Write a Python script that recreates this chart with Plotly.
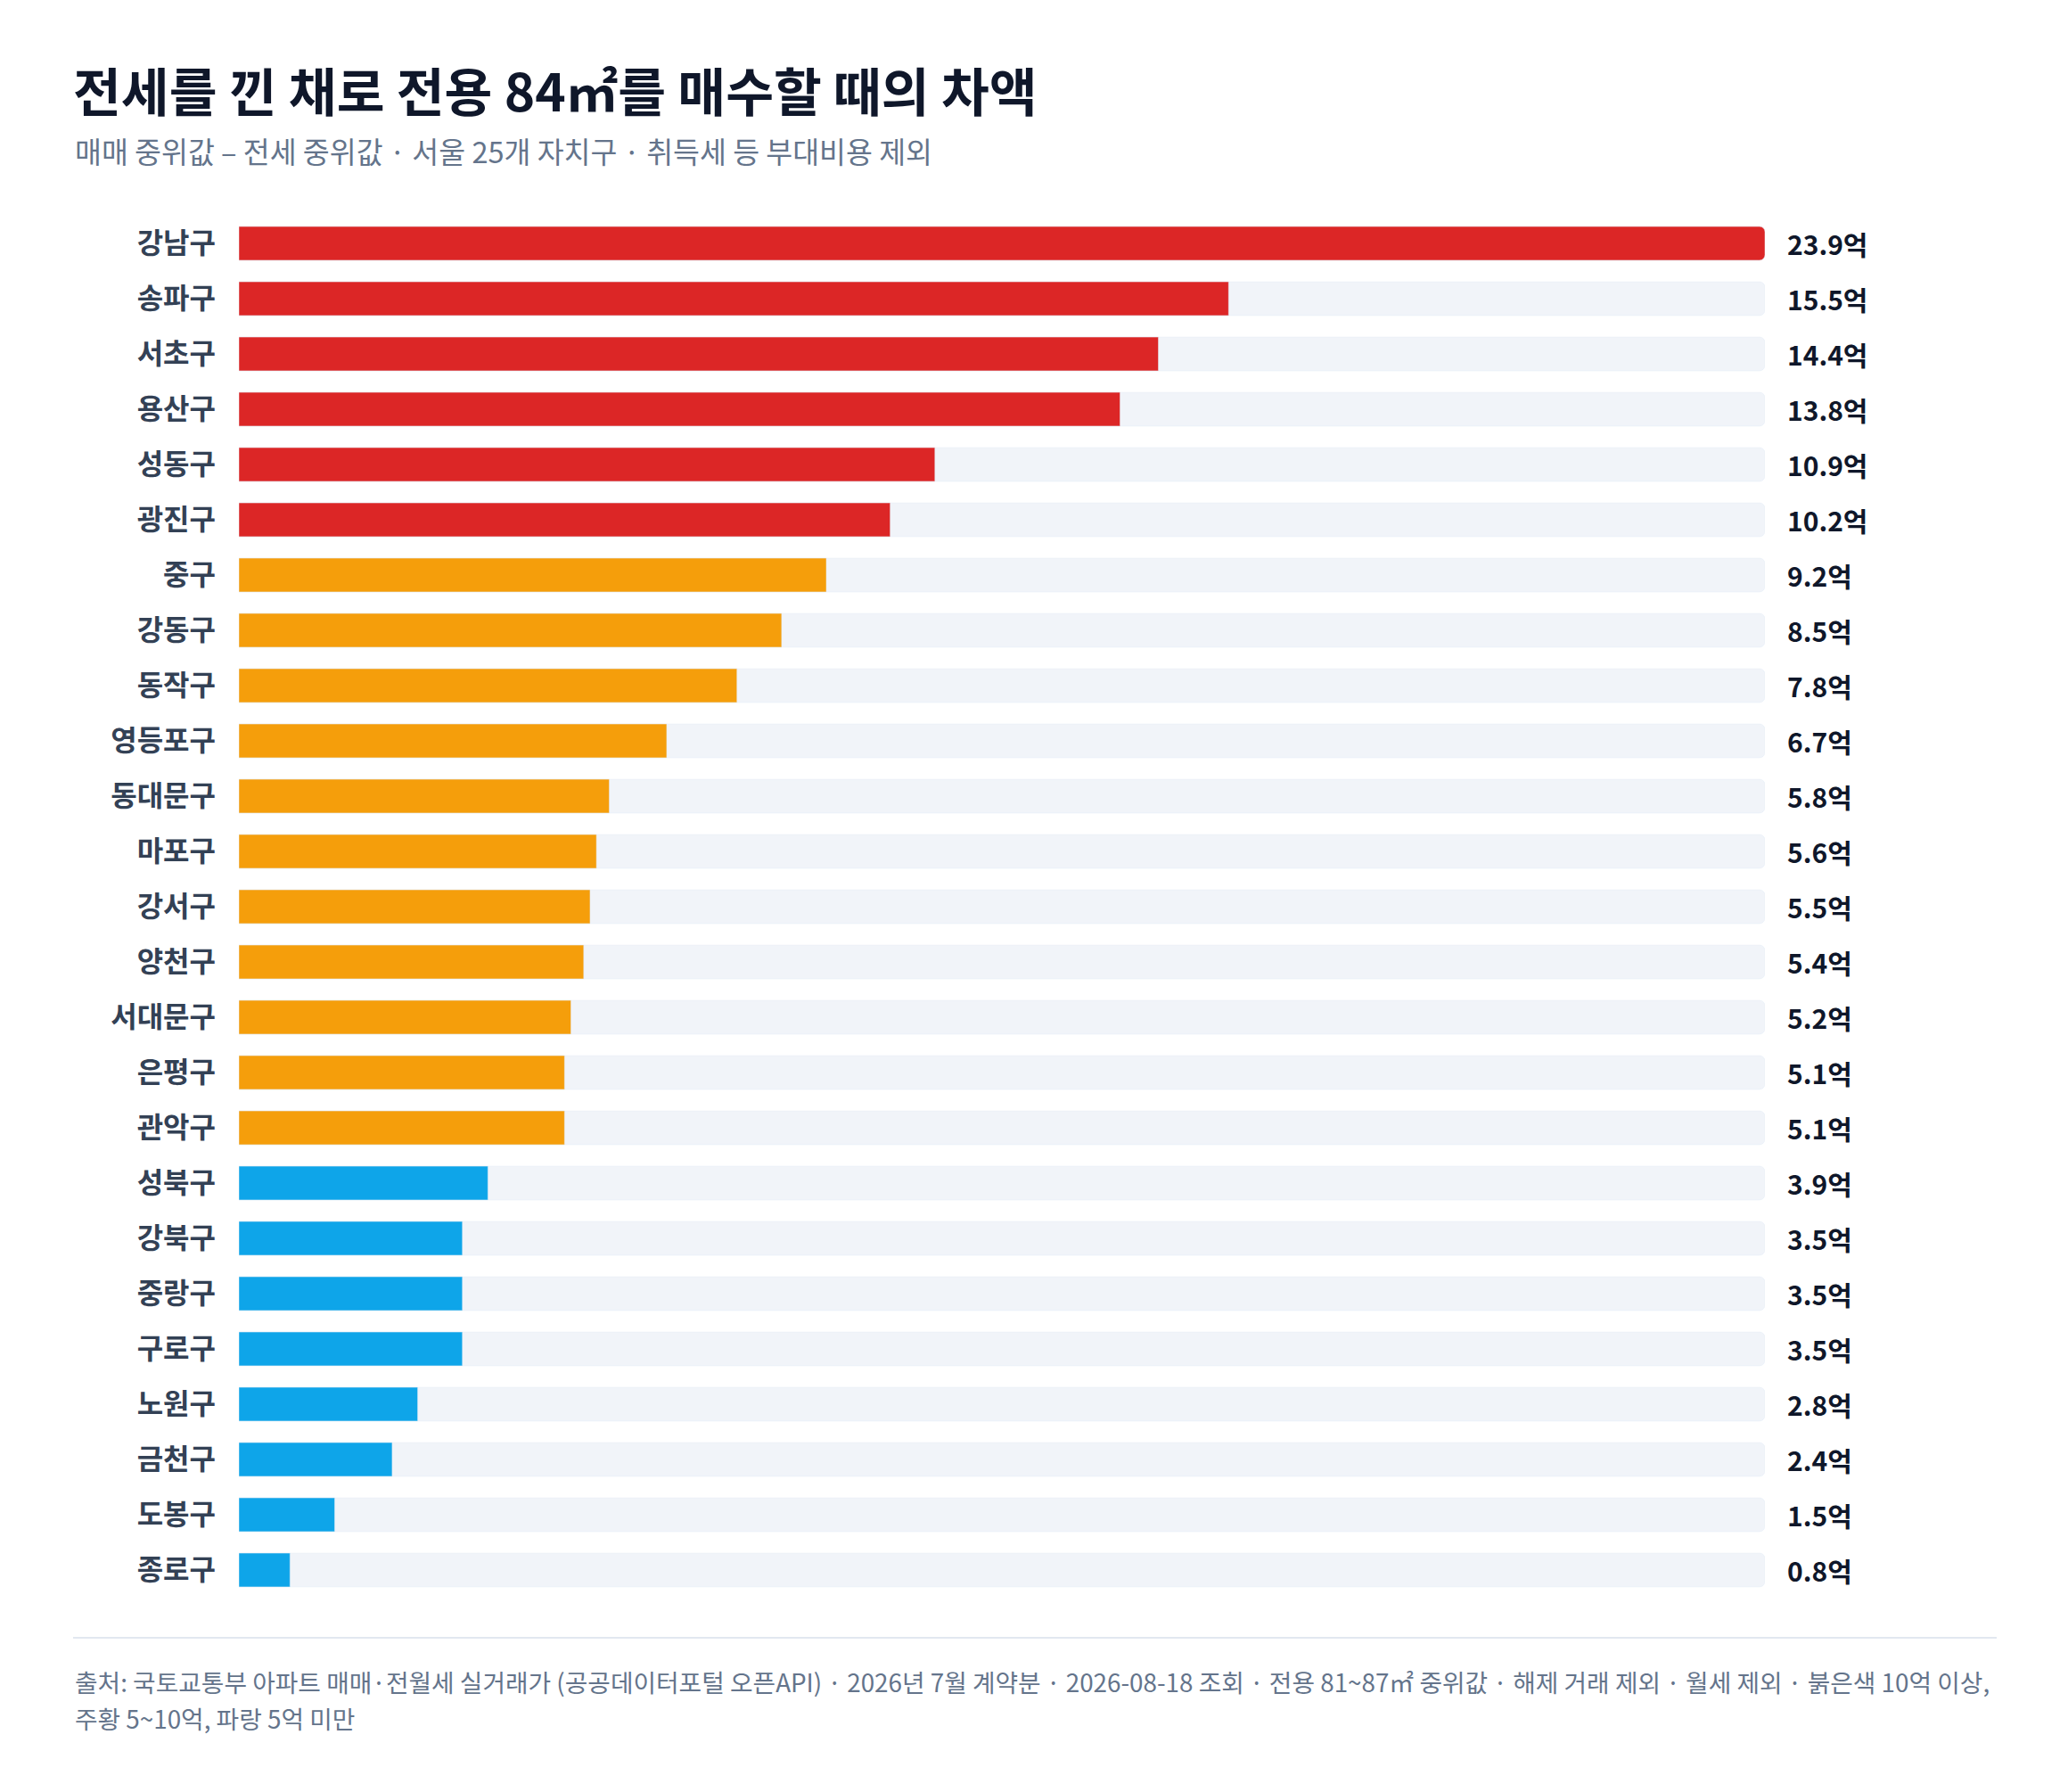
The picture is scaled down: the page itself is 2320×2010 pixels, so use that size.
import plotly.graph_objects as go

# 자치구별 (매매 중위값 - 전세 중위값), 단위: 억
districts = ["강남구", "송파구", "서초구", "용산구", "성동구", "광진구", "중구", "강동구",
             "동작구", "영등포구", "동대문구", "마포구", "강서구", "양천구", "서대문구",
             "은평구", "관악구", "성북구", "강북구", "중랑구", "구로구", "노원구",
             "금천구", "도봉구", "종로구"]
gap_values = [23.9, 15.5, 14.4, 13.8, 10.9, 10.2, 9.2, 8.5, 7.8, 6.7, 5.8, 5.6, 5.5,
              5.4, 5.2, 5.1, 5.1, 3.9, 3.5, 3.5, 3.5, 2.8, 2.4, 1.5, 0.8]
value_labels = [f"{v:.1f}억" for v in gap_values]

RED = "#dc2626"
ORANGE = "#f59e0b"
BLUE = "#0ea5e9"
TRACK = "#f1f4f9"
FONT = "Noto Sans CJK KR"


def bar_color(v):
    if v >= 10:
        return RED
    if v >= 5:
        return ORANGE
    return BLUE


W, H = 2320, 2010
L, R, T, B = 268, 340, 242, 218
plot_w = W - L - R
plot_h = H - T - B
x_max = max(gap_values)


def px_x(px):  # page pixel -> paper x
    return (px - L) / plot_w


def px_y(py):  # page pixel -> paper y
    return (H - B - py) / plot_h


fig = go.Figure()

# background track
fig.add_trace(go.Bar(
    x=[x_max] * len(districts), y=districts, orientation="h",
    marker=dict(color=TRACK, cornerradius=6), width=0.61,
    hoverinfo="skip", showlegend=False,
))
# values
fig.add_trace(go.Bar(
    x=gap_values, y=districts, orientation="h",
    marker=dict(color=[bar_color(v) for v in gap_values], cornerradius=6), width=0.61,
    hovertemplate="%{y}: %{x:.1f}억<extra></extra>", showlegend=False,
))

# value labels to the right of the track
for d, lab in zip(districts, value_labels):
    fig.add_annotation(x=x_max, y=d, text=lab, showarrow=False,
                       xanchor="left", xshift=23, yanchor="middle",
                       font=dict(family=FONT, size=30, color="#0f172a", weight=700))

fig.update_layout(
    width=W, height=H,
    margin=dict(l=L, r=R, t=T, b=B),
    paper_bgcolor="white", plot_bgcolor="white",
    barmode="overlay",
    font=dict(family=FONT, color="#334155"),
    title=dict(
        text="전세를 낀 채로 전용 84㎡를 매수할 때의 차액",
        x=82 / W, xref="container", xanchor="left",
        y=1 - 105 / H, yref="container", yanchor="middle",
        font=dict(family=FONT, size=58.5, color="#0f172a", weight=700),
    ),
    xaxis=dict(range=[0, x_max], visible=False, fixedrange=True),
    yaxis=dict(
        type="category", range=[len(districts) - 0.5, -0.5],
        showgrid=False, zeroline=False, showline=False, ticks="",
        ticklabelstandoff=25, fixedrange=True,
        tickfont=dict(family=FONT, size=32, color="#334155", weight=700),
    ),
)

# subtitle
fig.add_annotation(
    text="매매 중위값 – 전세 중위값 · 서울 25개 자치구 · 취득세 등 부대비용 제외",
    xref="paper", yref="paper", x=px_x(82), y=px_y(169),
    xanchor="left", yanchor="middle", showarrow=False,
    font=dict(family=FONT, size=32.5, color="#64748b"),
)

# footer separator
fig.add_shape(type="line", xref="paper", yref="paper",
              x0=px_x(82), x1=px_x(2240), y0=px_y(1837), y1=px_y(1837),
              line=dict(color="#e2e8f0", width=2))

footer_lines = [
    "출처: 국토교통부 아파트 매매·전월세 실거래가 (공공데이터포털 오픈API) · 2026년 7월 계약분 · "
    "2026-08-18 조회 · 전용 81~87㎡ 중위값 · 해제 거래 제외 · 월세 제외 · 붉은색 10억 이상,",
    "주황 5~10억, 파랑 5억 미만",
]
for line, cy in zip(footer_lines, [1886, 1927]):
    fig.add_annotation(text=line, xref="paper", yref="paper",
                       x=px_x(82), y=px_y(cy), xanchor="left", yanchor="middle",
                       showarrow=False,
                       font=dict(family=FONT, size=27.8, color="#64748b"))

fig.write_html("out.html", config={"displayModeBar": False},
               post_script="document.body.style.margin='0';")
